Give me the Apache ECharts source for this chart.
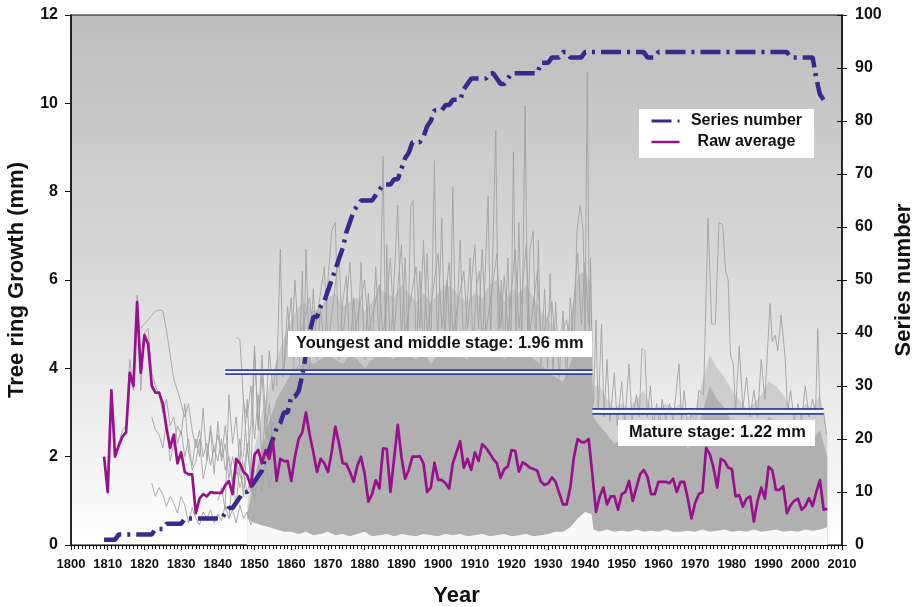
<!DOCTYPE html>
<html><head><meta charset="utf-8">
<script src="https://cdn.jsdelivr.net/npm/echarts@6/dist/echarts.min.js"></script>
<style>html,body{margin:0;padding:0;background:#fff}#chart{width:913px;height:607px}</style>
</head><body><div id="chart"></div>
<script>
const FONT = '"Liberation Sans", Arial, Helvetica, sans-serif';

// ---- Raw average (mm), yearly from 1809 ----
const rawAverageStart = 1809;
const rawAverage = [
  2.0,
  1.2, 3.5, 2.0, 2.25, 2.45, 2.55, 3.9, 3.6, 5.5, 3.9,
  4.75, 4.55, 3.6, 3.45, 3.45, 3.2, 2.65, 2.2, 2.5, 1.85,
  2.1, 1.65, 1.6, 1.6, 0.72, 1.05, 1.15, 1.1, 1.2, 1.18,
  1.18, 1.18, 1.35, 1.45, 1.15, 1.95, 1.85, 1.65, 1.58, 1.32,
  2.05, 2.15, 1.85, 2.15, 1.95, 2.35, 1.45, 1.95, 1.9, 1.9,
  1.45, 2.0, 2.4, 2.55, 3.0, 2.5, 2.1, 1.65, 1.95, 1.85,
  1.65, 2.1, 2.68, 2.3, 1.85, 1.83, 1.65, 1.43, 1.8, 2.0,
  1.6, 0.98, 1.15, 1.47, 1.28, 2.19, 2.18, 1.2, 1.95, 2.72,
  2.0, 1.5, 1.7, 2.0, 2.0, 2.01, 1.85, 1.2, 1.3, 1.86,
  1.48, 1.47, 1.4, 1.28, 1.85, 2.1, 2.35, 1.75, 1.95, 1.7,
  2.1, 1.9, 2.28, 2.2, 2.08, 1.95, 1.85, 1.52, 1.72, 1.78,
  2.15, 2.13, 1.66, 1.87, 1.82, 1.75, 1.72, 1.68, 1.43, 1.36,
  1.4, 1.53, 1.43, 1.17, 0.92, 0.92, 1.3, 2.0, 2.4, 2.33,
  2.33, 2.4, 1.6, 0.75, 1.1, 1.3, 0.92, 1.1, 1.1, 0.8,
  1.15, 1.2, 1.45, 1.0, 1.3, 1.6, 1.7, 1.55, 1.15, 1.15,
  1.43, 1.43, 1.43, 1.4, 1.5, 1.2, 1.43, 1.43, 1.05, 0.6,
  0.95, 1.15, 1.2, 2.2, 2.05, 1.75, 1.3, 1.95, 1.9, 1.75,
  1.72, 1.1, 1.13, 0.87, 1.05, 1.1, 0.53, 1.0, 1.3, 1.05,
  1.77, 1.7, 1.25, 1.25, 1.33, 0.72, 0.9, 1.0, 1.05, 0.8,
  0.88, 1.06, 0.88, 1.2, 1.47, 0.8, 0.82
];

// ---- Series number (count of series), yearly from 1809 ----
const seriesNumberStart = 1809;
const seriesNumber = [
  1,
  1, 1, 1, 2, 2, 2, 2, 2, 2, 2,
  2, 2, 2, 3, 3, 3, 4, 4, 4, 4,
  4, 5, 5, 5, 5, 5, 5, 5, 5, 5,
  5, 5, 6, 7, 7, 8, 9, 10, 10, 11,
  12, 13, 14, 17, 18, 20, 22, 23, 25, 25,
  28, 28, 29, 32, 36, 40, 43, 43, 45, 46,
  48, 50, 52, 54, 56, 59, 61, 63, 64, 65,
  65, 65, 65, 66, 67, 68, 68, 68, 69, 69,
  71, 73, 74, 76, 76, 76, 77, 79, 80, 82,
  82, 82, 83, 83, 84, 84, 84, 86, 87, 88,
  88, 88, 88, 88, 89, 89, 88, 87, 87, 88,
  89, 89, 89, 89, 89, 89, 89, 89, 91, 91,
  91, 92, 92, 92, 93, 93, 92, 92, 92, 92,
  93, 93, 93, 93, 93, 93, 93, 93, 93, 93,
  93, 93, 93, 93, 93, 93, 93, 92, 92, 92,
  93, 93, 93, 93, 93, 93, 93, 93, 93, 93,
  93, 93, 93, 93, 93, 93, 93, 93, 93, 93,
  93, 93, 93, 93, 93, 93, 93, 93, 93, 93,
  93, 93, 93, 93, 93, 93, 92, 92, 92, 92,
  92, 92, 92, 88, 85, 84
];

// ---- Individual tree-ring series (grey), early sparse ones ----
const early1Start = 1813;
const early1 = [2.3, 2.6, 2.7, 4.2, 3.5, 5.66, 3.5, 4.8, 4.9, 3.9, 3.6, 3.4, 3.0, 3.3, 2.7, 2.9, 2.3, 2.6, 2.0, 2.4,
  1.7, 1.9, 2.4, 1.5, 1.9, 2.7, 2.1, 2.5, 2.0, 2.7, 1.9, 1.4, 1.9, 1.6, 1.3, 1.6, 1.2, 1.7];
const early2Start = 1819;
const early2 = [4.9, 5.0, 5.1, 5.2, 5.3, 5.32, 5.3, 4.87, 4.3, 3.75, 3.5, 3.2, 2.9, 3.2, 2.6, 2.2, 2.6, 2.0, 2.3, 1.8,
  2.2, 1.9, 2.4, 1.7, 2.0, 1.5, 1.8, 1.3, 1.6, 1.2, 1.5, 1.0];
const early3Start = 1822;
const early3 = [1.4, 1.1, 1.3, 1.15, 0.87, 1.1, 0.95, 0.72, 1.1, 0.9, 0.5, 0.85, 0.6, 0.45, 0.75, 0.6, 0.8, 0.5, 0.7, 0.55,
  0.9, 0.6, 0.8, 0.5, 0.9, 0.6, 0.75, 0.45, 0.7];
const early4Start = 1822;
const early4 = [2.9, 2.6, 2.5, 2.2, 2.8, 1.9, 2.3, 2.7, 2.5, 3.2, 2.1, 1.8, 2.4, 2.0, 3.1, 1.9, 2.6, 1.6, 2.8, 1.9,
  2.3, 1.5, 2.0, 1.6, 2.4, 1.7, 2.2, 1.5, 1.9];
const early5Start = 1840;
const early5 = [1.0, 1.3, 0.8, 3.4, 2.3, 2.9, 1.8, 3.3, 2.1, 2.7, 4.5, 2.6, 3.9, 2.5, 3.2, 2.2];
const early6Start = 1845;
const early6 = [4.7, 4.65, 3.2, 2.9, 3.6, 2.4, 3.4, 2.0, 3.0, 2.3, 2.8];
const early7Start = 1843;
const early7 = [0.6, 1.5, 0.9, 1.9, 1.1, 2.3, 1.4, 1.0, 1.8, 1.2, 2.0, 1.3, 1.7];
const early8Start = 1847;
const early8 = [2.0, 3.3, 1.5, 4.4, 2.7, 4.3, 2.9, 4.4, 3.5, 4.1];

// ---- Dense bundle of series: envelope of the core and of its fringe ----
const coreYears = [1848,1850,1852,1854,1856,1858,1860,1862,1864,1866,
  1868,1870,1872,1874,1876,1878,1880,1882,1884,1886,
  1888,1890,1892,1894,1896,1898,1900,1902,1904,1906,
  1908,1910,1912,1914,1916,1918,1920,1922,1924,1926,
  1928,1930,1932,1934,1936,1938,1940,1941.8,1942.3,1944,
  1946,1948,1950,1952,1954,1956,1958,1960,1962,1964,
  1966,1968,1970,1972,1974,1976,1978,1980,1982,1984,
  1986,1988,1990,1992,1994,1996,1998,2000,2002,2004,
  2006];
const coreLow = [0.6,0.5,0.45,0.4,0.35,0.3,0.3,0.25,0.3,0.22,
  0.25,0.3,0.22,0.25,0.2,0.25,0.3,0.2,0.22,0.25,
  0.2,0.25,0.22,0.2,0.25,0.22,0.2,0.25,0.22,0.25,
  0.2,0.22,0.25,0.2,0.22,0.25,0.2,0.22,0.25,0.2,
  0.22,0.25,0.3,0.3,0.4,0.6,0.75,0.7,0.35,0.3,
  0.35,0.3,0.32,0.3,0.35,0.3,0.32,0.3,0.35,0.3,
  0.3,0.32,0.3,0.35,0.3,0.32,0.35,0.3,0.32,0.3,
  0.35,0.3,0.32,0.35,0.3,0.32,0.3,0.35,0.32,0.35,
  0.4];
const coreHigh = [0.7,1.5,2.2,2.8,3.3,3.6,3.9,4.0,4.2,4.1,
  4.2,4.3,4.2,4.1,4.3,4.2,4.0,4.2,4.4,4.3,
  4.2,4.5,4.3,4.2,4.4,4.1,4.3,4.5,4.4,4.3,
  4.2,4.4,4.3,4.4,4.5,4.2,4.4,4.3,4.4,4.2,
  4.1,3.9,3.8,3.7,4.1,4.7,4.8,4.6,2.9,2.7,
  2.5,2.3,2.4,2.3,2.5,2.6,2.3,2.4,2.5,2.4,
  2.4,2.2,2.3,3.0,3.6,3.3,3.1,2.8,2.6,2.4,
  2.5,2.6,2.9,2.8,2.6,2.4,2.4,2.5,2.4,2.6,
  2.0];
const fringeHigh = [0.9,2.2,3.0,3.6,4.2,4.7,5.1,5.4,5.5,5.3,
  5.4,5.6,5.7,5.4,5.5,5.6,5.3,5.5,5.8,5.7,
  5.6,5.9,5.7,5.5,5.7,5.5,5.7,5.9,5.8,5.6,
  5.5,5.7,5.6,5.9,6.0,5.5,5.8,5.7,5.9,5.6,
  5.3,5.1,4.9,4.7,5.1,6.1,6.2,5.9,3.6,3.6,
  3.3,3.1,3.2,3.1,3.3,3.5,3.1,3.1,3.2,3.1,
  3.2,2.9,3.0,3.7,4.3,4.0,3.8,3.5,3.3,3.1,
  3.2,3.4,3.7,3.6,3.4,3.1,3.0,3.2,3.1,3.4,
  2.5];

// ---- Tallest grey series peaks, [year, mm] ----
const peakLineA = [[1856,3.6],[1857,6.7],[1857.8,3.8],[1860,5.6],[1860.8,3.9],[1862.2,4.1],[1863,6.2],[1863.5,4.4],[1864,6.7],[1865,4.0],
  [1866,5.8],[1867,4.2],[1868,5.4],[1869,4.3],[1870,6.0],[1871,7.1],[1872,7.3],[1873,4.2],[1874,5.5],[1875,6.1],[1876,4.3],
  [1877,5.6],[1878,4.4],[1879,6.4],[1880,4.2],[1881,5.7],[1882,4.4],[1883,6.3],[1884,4.5],[1885,8.8],[1885.7,4.4],[1886,6.8],
  [1887,4.3],[1888,6.0],[1889,7.7],[1890,4.5],[1891,6.5],[1891.8,4.6],[1892.5,7.65],[1893.2,7.8],[1894,4.3],[1895,6.2],
  [1896,4.4],[1897,6.6],[1898,4.3],[1899,8.7],[1899.8,4.4],[1901,7.4],[1901.8,4.5],[1902.5,6.0],[1903.2,4.6],[1904,8.1],
  [1904.8,4.4],[1906,6.9],[1907,4.3],[1908.7,6.5],[1909.5,4.4],[1910.5,5.9],[1911.3,6.2],[1912,4.3],[1913.6,7.9],[1914.3,4.6],
  [1915,7.0],[1915.7,9.4],[1916.4,4.6],[1917.2,6.0],[1918,4.3],[1919,6.5],[1919.8,4.4],[1920.5,8.9],[1921.2,4.6],[1922,7.3],
  [1922.8,4.4],[1923.7,9.96],[1924.4,4.5],[1925,6.7],[1925.9,7.1],[1926.6,4.3],[1927.3,6.9],[1928,4.1],[1929,5.8],[1929.8,4.0],
  [1930.5,6.15],[1931.3,3.9],[1932,5.5],[1933,3.8],[1934,5.3],[1935,3.8],[1936,5.6],[1937,4.4],[1937.8,7.1],[1938.7,7.7],
  [1939.5,7.1],[1940,4.8],[1940.6,10.7],[1941.2,4.8],[1941.5,6.5],[1941.9,4.6]];
const peakLineB = [[1858,4.0],[1859,5.4],[1860,4.4],[1861,6.0],[1862,4.6],[1865,5.6],[1866,4.6],[1869,6.3],[1870,4.5],[1873,6.6],
  [1874,4.6],[1876,6.4],[1877,4.7],[1880,6.0],[1881,4.8],[1884,5.9],[1885,4.7],[1887,6.5],[1888,4.8],[1890,6.8],[1891,4.8],
  [1894,6.3],[1895,4.9],[1896,6.9],[1897,4.8],[1900,6.6],[1901,4.9],[1903,6.4],[1904,4.8],[1907,6.2],[1908,4.9],[1910,6.8],
  [1911,4.9],[1912,6.7],[1913,4.8],[1916,6.6],[1917,4.9],[1918,6.1],[1919,4.8],[1921,6.7],[1922,4.9],[1924,6.8],[1925,4.8],
  [1927,6.2],[1928,4.6],[1931,5.5],[1932,4.4],[1935,5.1],[1936,4.5],[1938,6.6],[1939,5.0],[1940,6.4],[1941,5.0]];
const peakLineC = [[1942.3,3.2],[1943,5.1],[1943.6,3.0],[1944.5,5.0],[1945.2,2.9],[1946,4.2],[1946.8,2.8],[1948,3.9],[1948.8,2.7],
  [1950,3.7],[1950.8,2.7],[1952,4.1],[1952.8,2.8],[1954,3.4],[1954.8,2.9],[1955.5,4.45],[1956.3,4.4],[1957,2.9],[1957.8,3.6],
  [1958.6,2.7],[1959.5,3.2],[1960.3,2.7],[1961,3.3],[1962,2.8],[1963,3.2],[1964,2.8],[1965.6,4.1],[1966.3,2.8],[1967,3.5],
  [1968,2.6],[1969,3.0],[1970,2.7],[1971,3.5],[1972.3,3.4],[1973.5,7.4],[1974.5,5.0],[1975.5,5.0],[1976.5,7.3],[1977.5,7.25],
  [1978.3,6.2],[1979,6.0],[1979.6,4.3],[1980.4,4.1],[1981,3.0],[1982,4.5],[1983,3.1],[1984,3.8],[1985,2.9],[1986,3.5],
  [1987,2.9],[1988,4.2],[1989,3.3],[1990.4,5.47],[1991,4.6],[1991.8,4.75],[1992.5,4.4],[1993.4,5.2],[1994.5,4.25],[1995.2,3.0],
  [1996,3.5],[1997,2.8],[1998,3.2],[1999,2.8],[2000,3.6],[2001,2.9],[2002,3.3],[2002.8,3.0],[2003.4,4.9],[2004,3.1],
  [2005,3.0],[2005.8,2.5]];

// ---- Stage annotations ----
const youngStageSpan = [1842, 1942];
const youngStageLevels = [3.96, 3.87];
const youngStageLabel = 'Youngest and middle stage: 1.96 mm';
const matureStageSpan = [1942, 2005];
const matureStageLevels = [3.08, 2.97];
const matureStageLabel = 'Mature stage: 1.22 mm';

// ---- Axis settings ----
const xMin = 1800, xMax = 2010, xStep = 10;
const yLeftMin = 0, yLeftMax = 12, yLeftStep = 2;
const yRightMin = 0, yRightMax = 100, yRightStep = 10;

const toPairs = (start, arr) => arr.map((v, i) => [start + i, v]);
const zip = (xs, ys) => xs.map((x, i) => [x, ys[i]]);

const GREY = '#a3a3a3';
const series = [];

// fringe (lighter) area, solid core area, and the pale floor under the core
series.push({ type: 'line', name: 'fringe', data: zip(coreYears, fringeHigh), symbol: 'none',
  lineStyle: { width: 0, opacity: 0 }, areaStyle: { color: 'rgba(150,150,150,0.33)', opacity: 1 }, silent: true, z: 1 });
series.push({ type: 'line', name: 'core', data: zip(coreYears, coreHigh), symbol: 'none',
  lineStyle: { width: 0, opacity: 0 }, areaStyle: { color: '#b0b0b0', opacity: 1 }, silent: true, z: 1 });
series.push({ type: 'line', name: 'floor', data: zip(coreYears, coreLow), symbol: 'none',
  lineStyle: { width: 0, opacity: 0 }, areaStyle: { color: '#f9f9f9', opacity: 1 }, silent: true, z: 1 });

const greyLines = [
  toPairs(early1Start, early1), toPairs(early2Start, early2), toPairs(early3Start, early3), toPairs(early4Start, early4),
  toPairs(early5Start, early5), toPairs(early6Start, early6), toPairs(early7Start, early7), toPairs(early8Start, early8),
  peakLineA, peakLineB, peakLineC
];
greyLines.forEach((d, i) => series.push({ type: 'line', name: 'grey' + i, data: d, symbol: 'none',
  lineStyle: { color: GREY, width: 0.9 }, silent: true, z: 2 }));

// double stage lines
function stageLines(span, levels) {
  const mid = (levels[0] + levels[1]) / 2;
  series.push({ type: 'line', name: 'stageGap', data: [[span[0], mid], [span[1], mid]], symbol: 'none',
    lineStyle: { color: '#f4f4f8', width: 3 }, silent: true, z: 3 });
  levels.forEach(l => series.push({ type: 'line', name: 'stage', data: [[span[0], l], [span[1], l]], symbol: 'none',
    lineStyle: { color: '#3143a0', width: 1.7 }, silent: true, z: 3 }));
}
stageLines(youngStageSpan, youngStageLevels);
stageLines(matureStageSpan, matureStageLevels);

series.push({ type: 'line', name: 'Series number', yAxisIndex: 1, data: toPairs(seriesNumberStart, seriesNumber),
  symbol: 'none', lineStyle: { color: '#38298e', width: 4.5, type: [20, 6, 3, 6], cap: 'butt' }, itemStyle: { color: '#38298e' },
  silent: true, z: 4 });
series.push({ type: 'line', name: 'Raw average', data: toPairs(rawAverageStart, rawAverage),
  symbol: 'none', lineStyle: { color: '#99108c', width: 2.7, join: 'round' }, itemStyle: { color: '#99108c' },
  silent: true, z: 5 });

const chart = echarts.init(document.getElementById('chart'));
const axisTxt = { fontFamily: FONT, fontWeight: 'bold', color: '#111' };
chart.setOption({
  animation: false,
  grid: { left: 71, right: 71, top: 15, bottom: 62, show: true, borderColor: '#111', borderWidth: 1.2,
    outerBoundsMode: 'none',
    backgroundColor: new echarts.graphic.LinearGradient(0, 0, 0, 1, [
      { offset: 0, color: '#bdbdbd' }, { offset: 0.5, color: '#dadada' }, { offset: 1, color: '#ffffff' }]) },
  legend: {
    data: [{ name: 'Series number', lineStyle: { width: 3 } }, { name: 'Raw average', lineStyle: { width: 2.5 } }],
    orient: 'vertical', left: 639, top: 109, itemWidth: 28, itemHeight: 14, itemGap: 5,
    padding: [4, 12, 8, 11], backgroundColor: '#ffffff', borderWidth: 0, z: 20,
    itemStyle: { opacity: 0, borderWidth: 0 },
    formatter: n => '{c|' + n + '}',
    textStyle: { rich: { c: { width: 124, align: 'center', fontFamily: FONT, fontWeight: 'bold', fontSize: 16, color: '#111' } } },
    selectedMode: false
  },
  xAxis: {
    type: 'value', min: xMin, max: xMax, interval: xStep,
    axisLine: { show: true, onZero: false, lineStyle: { color: '#111', width: 1.2 } },
    axisTick: { show: true, length: 5, lineStyle: { color: '#111', width: 1 } },
    minorTick: { show: true, splitNumber: 10, length: 4, lineStyle: { color: '#111', width: 1 } },
    splitLine: { show: false }, minorSplitLine: { show: false },
    axisLabel: Object.assign({ fontSize: 13, margin: 13, formatter: v => String(v) }, axisTxt),
    name: 'Year', nameLocation: 'middle', nameGap: 40,
    nameTextStyle: Object.assign({ fontSize: 22 }, axisTxt)
  },
  yAxis: [{
    type: 'value', min: yLeftMin, max: yLeftMax, interval: yLeftStep, position: 'left',
    axisLine: { show: true, onZero: false, lineStyle: { color: '#111', width: 1.5 } },
    axisTick: { show: true, length: 6, lineStyle: { color: '#111', width: 1 } },
    splitLine: { show: false },
    axisLabel: Object.assign({ fontSize: 16, margin: 13 }, axisTxt),
    name: 'Tree ring Growth (mm)', nameLocation: 'middle', nameRotate: 90, nameGap: 43,
    nameTextStyle: Object.assign({ fontSize: 22 }, axisTxt)
  }, {
    type: 'value', min: yRightMin, max: yRightMax, interval: yRightStep, position: 'right',
    axisLine: { show: true, onZero: false, lineStyle: { color: '#111', width: 1.5 } },
    axisTick: { show: true, length: 5, lineStyle: { color: '#111', width: 1 } },
    splitLine: { show: false },
    axisLabel: Object.assign({ fontSize: 16, margin: 13 }, axisTxt),
    name: 'Series number', nameLocation: 'middle', nameRotate: 90, nameGap: 46,
    nameTextStyle: Object.assign({ fontSize: 22 }, axisTxt)
  }, {
    // same right scale again, only to draw the inward half of its crossing ticks
    type: 'value', min: yRightMin, max: yRightMax, interval: yRightStep, position: 'right',
    axisLine: { show: false }, axisLabel: { show: false }, splitLine: { show: false },
    axisTick: { show: true, inside: true, length: 5, lineStyle: { color: '#111', width: 1 } }
  }],
  series: series,
  graphic: [
    { type: 'rect', left: 288, top: 331, z: 100, zlevel: 0, shape: { width: 304, height: 26 }, style: { fill: '#ffffff' } },
    { type: 'text', left: 296, top: 335, z: 101, zlevel: 0,
      style: { text: youngStageLabel, font: 'bold 16.4px ' + FONT, fill: '#111' } },
    { type: 'rect', left: 618, top: 420, z: 100, zlevel: 0, shape: { width: 197, height: 26 }, style: { fill: '#ffffff' } },
    { type: 'text', left: 629, top: 424, z: 101, zlevel: 0,
      style: { text: matureStageLabel, font: 'bold 16.4px ' + FONT, fill: '#111' } }
  ]
});
</script>
</body></html>
